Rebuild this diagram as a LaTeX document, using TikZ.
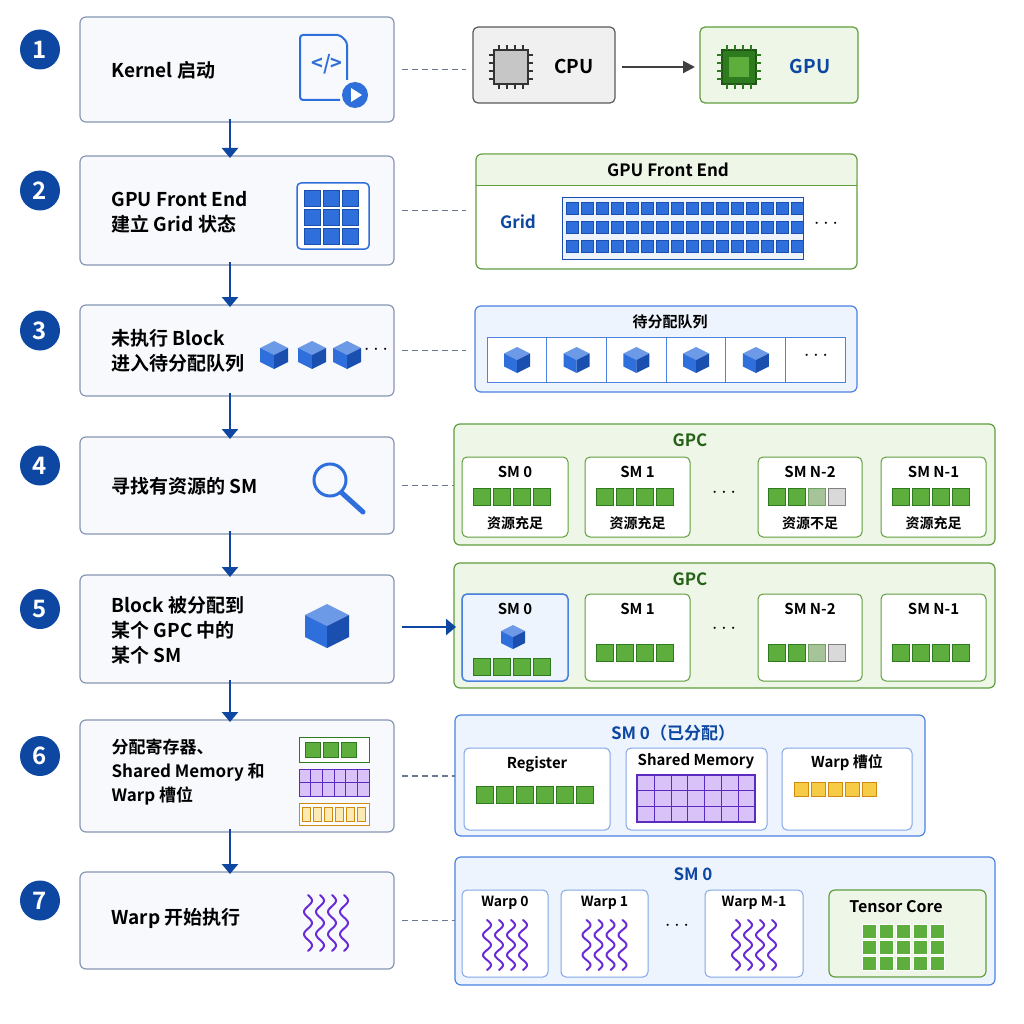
\documentclass[tikz,border=0pt]{standalone}
\usepackage{fontspec}
\setmainfont{Noto Sans CJK SC}[BoldFont={Noto Sans CJK SC Bold}]
\usetikzlibrary{arrows.meta}
\definecolor{navy}{HTML}{0D47A1}
\definecolor{stepline}{HTML}{8796B4}
\definecolor{stepfill}{HTML}{F7F9FC}
\definecolor{gline}{HTML}{5E9E3C}
\definecolor{gfill}{HTML}{EEF6E7}
\definecolor{bline}{HTML}{4C82E0}
\definecolor{bfill}{HTML}{EEF4FD}
\definecolor{gsq}{HTML}{5DAE3C}
\definecolor{gsqd}{HTML}{2E7A1E}
\definecolor{bsq}{HTML}{2F6FDB}
\definecolor{bsqd}{HTML}{1A4FB0}
\definecolor{psq}{HTML}{D9C2F7}
\definecolor{psqd}{HTML}{5A2BC0}
\definecolor{osq}{HTML}{F7CB45}
\definecolor{osqd}{HTML}{D08A10}
\definecolor{wave}{HTML}{6A2BD6}
\tikzset{
  num/.style={circle,fill=navy,text=white,minimum size=40pt,inner sep=0pt,font=\fontsize{24}{24}\selectfont\bfseries},
  stepbox/.style={draw=stepline,fill=stepfill,rounded corners=6pt,line width=1.2pt},
  steptext/.style={anchor=west,align=left,font=\fontsize{19}{25}\selectfont\bfseries},
  gpanel/.style={draw=gline,fill=gfill,rounded corners=6pt,line width=1.2pt},
  bpanel/.style={draw=bline,fill=bfill,rounded corners=6pt,line width=1.2pt},
  inbox/.style={draw=bline!70,fill=white,rounded corners=5pt,line width=1pt},
  small/.style={font=\fontsize{15}{17}\selectfont\bfseries},
  title/.style={font=\fontsize{17}{19}\selectfont\bfseries,text=navy},
  dots/.style={font=\fontsize{22}{22}\selectfont},
  flow/.style={-{Triangle[length=10pt,width=16pt]},navy,line width=2.8pt},
  link/.style={dash pattern=on 6pt off 4pt,stepline!80!black,line width=1.2pt},
}
% row of squares: x, y, count, size, fill, border
\newcommand\sqrow[6]{\foreach \k in {1,...,#3}{\draw[fill=#5,draw=#6,line width=0.8pt] ({#1+(\k-1)*(#4+3)},#2) rectangle ++(#4,#4);}}
% cube: centre x, y, half size
\newcommand\blockcube[3]{%
  \fill[bsq!70!white] (#1,#2-#3) -- (#1+#3,#2-#3/2) -- (#1,#2) -- (#1-#3,#2-#3/2) -- cycle;
  \fill[bsq] (#1-#3,#2-#3/2) -- (#1,#2) -- (#1,#2+#3) -- (#1-#3,#2+#3/2) -- cycle;
  \fill[bsqd] (#1+#3,#2-#3/2) -- (#1,#2) -- (#1,#2+#3) -- (#1+#3,#2+#3/2) -- cycle;}
% wavy line: x, y top, length
\newcommand\wavy[3]{\draw[wave,line width=2pt,line cap=round] plot[domain=0:1,samples=40,smooth] ({#1+4*sin(\x*900)},{#2+\x*#3});}
\begin{document}
\begin{tikzpicture}[x=1pt,y=-1pt]
\useasboundingbox (0,0) rectangle (1024,1024);
\fill[white] (0,0) rectangle (1024,1024);

% steps on the left
\foreach \i/\ya/\yb in {1/17/122,2/156/265,3/305/396,4/437/534,5/575/683,6/720/832,7/872/969}{
  \draw[stepbox] (80,\ya) rectangle (394,\yb);
  \coordinate (s\i n) at (230,\ya);
  \coordinate (s\i s) at (230,\yb);
  \coordinate (s\i e) at (402,{(\ya+\yb)/2});
  \coordinate (p\i) at (466,{(\ya+\yb)/2});
  \node[num] (n\i) at (40,{(\ya+\yb)/2-20}) {\i};
}
\foreach \i/\j in {1/2,2/3,3/4,4/5,5/6,6/7}{\draw[flow] ([yshift=3pt]s\i s) -- ([yshift=-2pt]s\j n);}
\foreach \i in {1,2,3,4,6,7}{\draw[link] (s\i e) -- (p\i);}

\node[steptext] (t1) at (108,70) {Kernel 启动};
\node[steptext] (t2) at (108,212) {GPU Front End\\建立 Grid 状态};
\node[steptext] (t3) at (108,351) {未执行 Block\\进入待分配队列};
\node[steptext] (t4) at (108,486) {寻找有资源的 SM};
\node[steptext] (t5) at (108,630) {Block 被分配到\\某个 GPC 中的\\某个 SM};
\node[steptext,font=\fontsize{17}{24}\selectfont\bfseries] (t6) at (108,772) {分配寄存器、\\Shared Memory 和\\Warp 槽位};
\node[steptext] (t7) at (108,918) {Warp 开始执行};

% step icons
\draw[bsq,line width=2pt,rounded corners=3pt] (347,80) -- (347,42) -- (340,35) -- (300,35) -- (300,100) -- (340,100);
\node[text=bsq,font=\fontsize{20}{20}\selectfont\bfseries] (code) at (327,64) {</>};
\fill[bsq] (355,95) circle (13);
\fill[white] (351,88) -- (362,95) -- (351,102) -- cycle;
\draw[bsq,fill=white,rounded corners=4pt,line width=1.5pt] (297,183) rectangle (369,249);
\foreach \r in {0,1,2}{\sqrow{304}{190+\r*19}{3}{16}{bsq}{bsqd}}
\blockcube{274}{355}{14} \blockcube{312}{355}{14} \blockcube{347}{355}{14}
\node[dots] (q3dots) at (376,350) {$\cdots$};
\draw[bsq,line width=3pt] (330,480) circle (16);
\draw[bsq,line width=5pt,line cap=round] (342,493) -- (363,512);
\blockcube{327}{626}{22}
\draw[gsqd,fill=white,line width=1pt] (299,737) rectangle (369,762);
\sqrow{305}{742}{3}{15}{gsq}{gsqd}
\draw[psqd,fill=psq,line width=1pt] (299,769) rectangle (369,796);
\foreach \k in {1,...,5}{\draw[psqd] ({299+\k*70/6},769) -- ++(0,27);}
\draw[psqd] (299,782.5) -- (369,782.5);
\draw[osqd,fill=white,line width=1pt] (299,803) rectangle (369,825);
\foreach \k in {0,...,5}{\draw[osqd,fill=osq!40] ({302+\k*11},807) rectangle ++(8,14);}
\foreach \k in {0,1,2,3}{\wavy{308+\k*12}{895}{56}}

% row 1: CPU -> GPU
\draw[fill=gray!12,draw=gray!70!black,rounded corners=5pt,line width=1.2pt] (473,27) rectangle (615,103);
\draw[fill=gfill,draw=gline,rounded corners=5pt,line width=1.2pt] (700,27) rectangle (858,103);
\node[font=\fontsize{19}{19}\selectfont\bfseries] (cpu) at (574,66) {CPU};
\node[font=\fontsize{19}{19}\selectfont\bfseries,text=navy] (gpu) at (810,66) {GPU};
\draw[fill=gray!45,draw=black!80,line width=1.5pt] (494,50) rectangle (528,84);
\draw[fill=gsqd,draw=gsqd!70!black,line width=1.5pt] (722,50) rectangle (756,84);
\fill[gsq] (729,57) rectangle (749,77);
\foreach \k in {0,1,2,3}{
  \draw[black!80,line width=1.2pt] ({499+\k*8},50) -- ++(0,-5) ({499+\k*8},84) -- ++(0,5) (494,{55+\k*8}) -- ++(-5,0) (528,{55+\k*8}) -- ++(5,0);
  \draw[gsqd,line width=1.2pt] ({727+\k*8},50) -- ++(0,-5) ({727+\k*8},84) -- ++(0,5) (722,{55+\k*8}) -- ++(-5,0) (756,{55+\k*8}) -- ++(5,0);}
\draw[-{Triangle[length=12pt,width=12pt]},black!75,line width=2.4pt] (622,67) -- (695,67);

% row 2: front end grid
\draw[gpanel,fill=white] (476,154) rectangle (857,269);
\fill[gfill,rounded corners=6pt] (477,155) rectangle (856,186);
\fill[gfill] (477,175) rectangle (856,186);
\draw[gline,line width=1pt] (476,186) -- (857,186);
\node[font=\fontsize{17}{19}\selectfont\bfseries] (fe) at (668,170) {GPU Front End};
\node[title] (grid) at (518,222) {Grid};
\draw[bsqd,fill=bfill,line width=1pt] (562,198) rectangle (803,259);
\foreach \r in {0,1,2}{\sqrow{566}{202+\r*19}{16}{12}{bsq}{bsqd}}
\node[dots] (gdots) at (826,224) {$\cdots$};

% row 3: queue
\draw[bpanel] (475,306) rectangle (857,392);
\node[font=\fontsize{15}{17}\selectfont\bfseries] (queue) at (670,322) {待分配队列};
\draw[bline,fill=white,line width=1pt] (487,337) rectangle (845,382);
\foreach \k in {1,...,5}{\draw[bline,line width=1pt] ({487+\k*59.7},337) -- ++(0,45);}
\foreach \k in {0,...,4}{\blockcube{517+\k*59.7}{360}{13}}
\node[dots] (qdots) at (816,356) {$\cdots$};

% row 4 and row 5: GPC
\draw[gpanel] (454,424) rectangle (995,545);
\node[font=\fontsize{17}{19}\selectfont\bfseries,text=gsqd!80!black] (gpc4) at (690,440) {GPC};
\draw[gpanel] (454,563) rectangle (995,688);
\node[font=\fontsize{17}{19}\selectfont\bfseries,text=gsqd!80!black] (gpc5) at (690,579) {GPC};
\foreach \xa/\xb/\lab/\res in {462/568/SM 0/资源充足,585/690/SM 1/资源充足,758/862/SM N-2/资源不足,881/986/SM N-1/资源充足}{
  \draw[draw=gline,fill=white,rounded corners=5pt,line width=1pt] (\xa,457) rectangle (\xb,537);
  \node[small] at ({(\xa+\xb)/2},472) {\lab};
  \node[font=\fontsize{14}{16}\selectfont\bfseries] at ({(\xa+\xb)/2},523) {\res};
  \draw[draw=gline,fill=white,rounded corners=5pt,line width=1pt] (\xa,594) rectangle (\xb,681);
  \node[small] at ({(\xa+\xb)/2},609) {\lab};
}
\draw[draw=bline,fill=bfill,rounded corners=5pt,line width=1.5pt] (462,594) rectangle (568,681);
\node[small] (sm0b) at (515,609) {SM 0};
\blockcube{513}{637}{12}
\foreach \xa in {473,596,892}{\sqrow{\xa}{488}{4}{17}{gsq}{gsqd}}
\sqrow{768}{488}{2}{17}{gsq}{gsqd}
\draw[fill=gsq!60!gray!60,draw=gsqd!70,line width=0.8pt] (808,488) rectangle ++(17,17);
\draw[fill=gray!30,draw=gray,line width=0.8pt] (828,488) rectangle ++(17,17);
\sqrow{473}{658}{4}{17}{gsq}{gsqd}
\foreach \xa in {596,892}{\sqrow{\xa}{644}{4}{17}{gsq}{gsqd}}
\sqrow{768}{644}{2}{17}{gsq}{gsqd}
\draw[fill=gsq!60!gray!60,draw=gsqd!70,line width=0.8pt] (808,644) rectangle ++(17,17);
\draw[fill=gray!30,draw=gray,line width=0.8pt] (828,644) rectangle ++(17,17);
\node[dots] (d4) at (724,493) {$\cdots$};
\node[dots] (d5) at (724,629) {$\cdots$};
\coordinate (sm0in) at (456,627);
\draw[flow] (402,627) -- (sm0in);

% row 6: SM 0 allocated
\draw[bpanel] (455,715) rectangle (925,836);
\node[title] (sm6) at (673,733) {SM 0（已分配）};
\draw[inbox] (464,748) rectangle (610,830);
\draw[inbox] (626,748) rectangle (767,830);
\draw[inbox] (782,748) rectangle (912,830);
\node[small] (reg) at (537,764) {Register};
\node[small] (shm) at (696,761) {Shared Memory};
\node[small] (wslot) at (847,763) {Warp 槽位};
\sqrow{476}{786}{6}{17}{gsq}{gsqd}
\draw[psqd,fill=psq,line width=1.2pt] (637,775) rectangle (755,822);
\foreach \k in {1,...,6}{\draw[psqd] ({637+\k*118/7},775) -- ++(0,47);}
\foreach \k in {1,2}{\draw[psqd] (637,{775+\k*47/3}) -- ++(118,0);}
\sqrow{794}{782}{5}{14}{osq}{osqd}

% row 7: warps running
\draw[bpanel] (455,857) rectangle (995,985);
\node[title] (sm7) at (693,874) {SM 0};
\foreach \xa/\xb/\lab in {462/548/Warp 0,561/648/Warp 1,705/803/Warp M-1}{
  \draw[inbox] (\xa,890) rectangle (\xb,977);
  \node[font=\fontsize{14}{16}\selectfont\bfseries] at ({(\xa+\xb)/2},903) {\lab};
  \foreach \k in {0,1,2,3}{\wavy{(\xa+\xb)/2-18+\k*12}{920}{50}}
}
\node[dots] (d7) at (677,926) {$\cdots$};
\draw[gpanel] (829,890) rectangle (986,977);
\node[font=\fontsize{16}{18}\selectfont\bfseries] (tc) at (896,907) {Tensor Core};
\foreach \r in {0,1,2}{\sqrow{862}{924+\r*16}{5}{14}{gsq}{white}}
\end{tikzpicture}
\end{document}
